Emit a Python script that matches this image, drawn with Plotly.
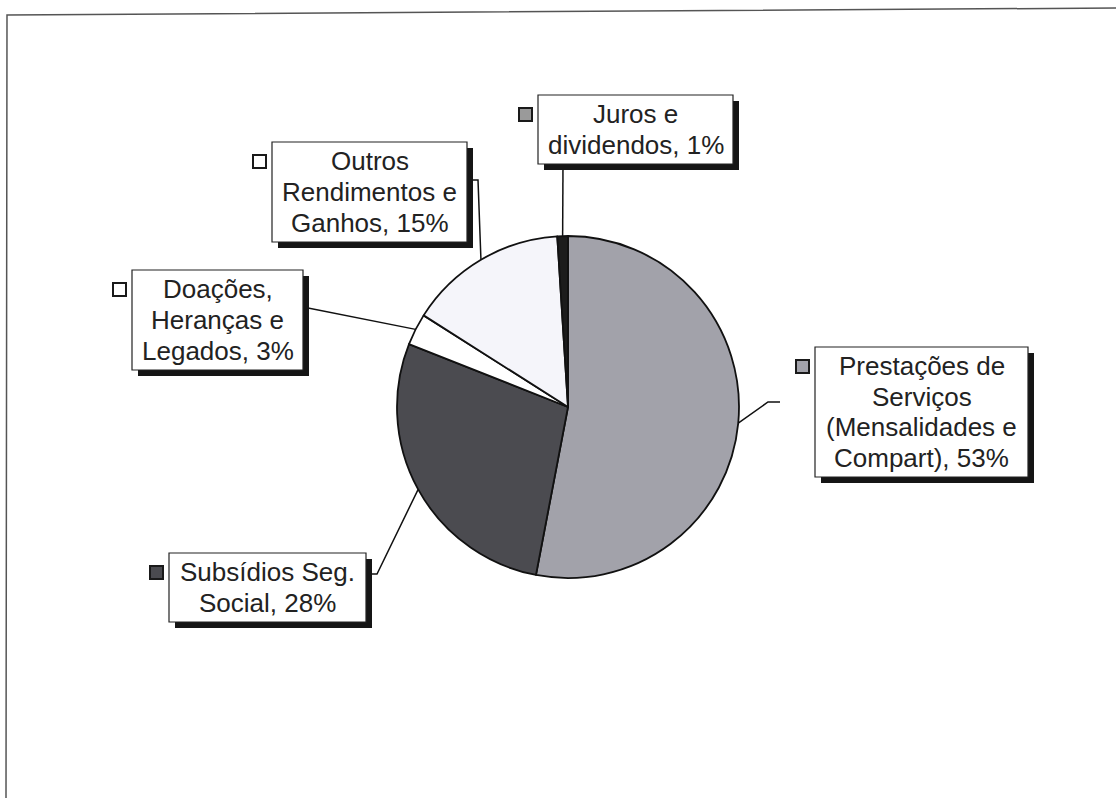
import math
import plotly.graph_objects as go

# Revenue sources (share of total, %)
categories = [
    "Prestações de\nServiços\n(Mensalidades e\nCompart)",
    "Subsídios Seg.\nSocial",
    "Doações,\nHeranças e\nLegados",
    "Outros\nRendimentos e\nGanhos",
    "Juros e\ndividendos",
]
values = [53, 28, 3, 15, 1]

# Styling
slice_colors = ["#A2A2AA", "#4B4B50", "#FFFFFF", "#F5F5FA", "#1C1C1C"]
key_colors = ["#A2A2AA", "#4B4B50", "#FFFFFF", "#FFFFFF", "#9A9A9A"]
TEXT_COLOR = "#222222"
FONT = "Liberation Sans, Arial, sans-serif"
FONT_SIZE = 26
LINE_STEP = 30.5

W, H = 1116, 798
PIE_CX, PIE_CY, PIE_R = 568, 407, 171

# Label boxes (pixel layout: x0, y0, x1, y1) and leader-line elbows
boxes = [
    (815, 347, 1028, 477),
    (169, 553, 366, 622),
    (132, 270, 303, 370),
    (272, 142, 467, 242),
    (538, 95, 733, 164),
]
elbows = [
    [(780, 402), (768, 402)],
    [(366, 574), (377, 574)],
    [(303, 307)],
    [(467, 180), (478, 180)],
    [(563, 164)],
]


def px(x):
    return x / W


def py(y):
    return 1 - y / H


fig = go.Figure()
fig.add_trace(go.Pie(
    labels=[c.replace("\n", " ") for c in categories],
    values=values,
    sort=False,
    direction="clockwise",
    rotation=0,
    textinfo="none",
    hoverinfo="label+percent",
    marker=dict(colors=slice_colors, line=dict(color="#111111", width=1.8)),
    domain=dict(x=[px(PIE_CX - PIE_R), px(PIE_CX + PIE_R)],
                y=[py(PIE_CY + PIE_R), py(PIE_CY - PIE_R)]),
    showlegend=False,
))

shapes = []
annotations = []

# Outer frame
shapes.append(dict(type="path", xref="paper", yref="paper",
                   path=f"M {px(1116)},{py(8)} L {px(7)},{py(15)} L {px(6)},{py(798)}",
                   line=dict(color="#555555", width=1.5)))

total = sum(values)
cum = 0
for i, (name, v) in enumerate(zip(categories, values)):
    mid = math.radians(360 * (cum + v / 2) / total)
    cum += v
    ax = PIE_CX + PIE_R * math.sin(mid)
    ay = PIE_CY - PIE_R * math.cos(mid)

    # leader line from the box to the slice's mid-point on the rim
    pts = elbows[i] + [(ax, ay)]
    path = "M " + " L ".join(f"{px(x)},{py(y)}" for x, y in pts)
    shapes.append(dict(type="path", xref="paper", yref="paper", path=path,
                       line=dict(color="#111111", width=1.5)))

    x0, y0, x1, y1 = boxes[i]
    # drop shadow
    shapes.append(dict(type="rect", xref="paper", yref="paper",
                       x0=px(x0 + 6), x1=px(x1 + 6), y0=py(y1 + 6), y1=py(y0 + 6),
                       fillcolor="#151515", line=dict(width=0)))
    # label box
    shapes.append(dict(type="rect", xref="paper", yref="paper",
                       x0=px(x0), x1=px(x1), y0=py(y1), y1=py(y0),
                       fillcolor="#FFFFFF", line=dict(color="#222222", width=1.2)))
    # legend key
    shapes.append(dict(type="rect", xref="paper", yref="paper",
                       x0=px(x0 - 19), x1=px(x0 - 6), y0=py(y0 + 26), y1=py(y0 + 13),
                       fillcolor=key_colors[i], line=dict(color="#1A1A1A", width=2)))

    lines = (name + f", {v}%").split("\n")
    cx = (x0 + x1) / 2
    cy = (y0 + y1) / 2
    n = len(lines)
    for k, line in enumerate(lines):
        ly = cy + (k - (n - 1) / 2) * LINE_STEP
        annotations.append(dict(x=px(cx), y=py(ly), xref="paper", yref="paper",
                                text=line, showarrow=False,
                                xanchor="center", yanchor="middle",
                                font=dict(family=FONT, size=FONT_SIZE, color=TEXT_COLOR)))

fig.update_layout(
    width=W, height=H,
    margin=dict(l=0, r=0, t=0, b=0),
    paper_bgcolor="#FFFFFF",
    plot_bgcolor="#FFFFFF",
    shapes=shapes,
    annotations=annotations,
)

fig.write_html("out.html")
